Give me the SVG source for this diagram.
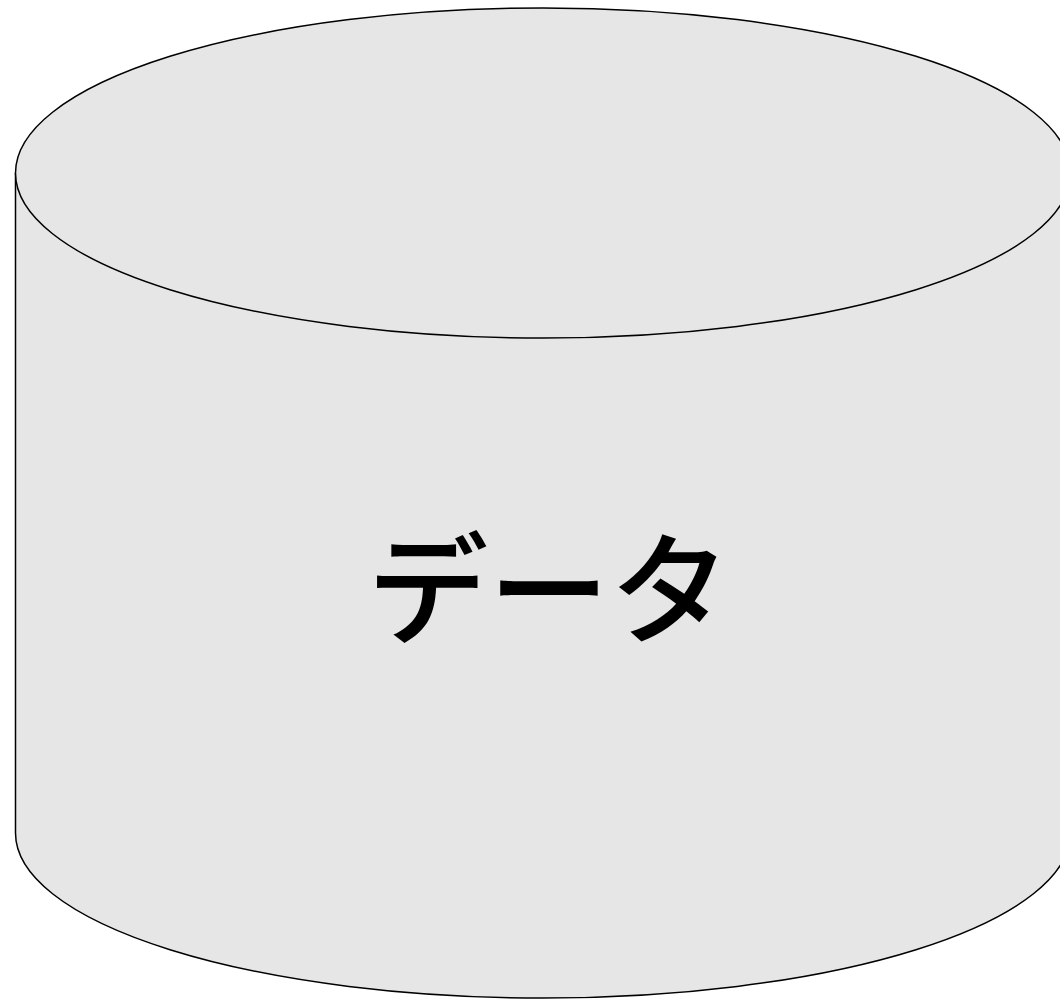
<svg xmlns="http://www.w3.org/2000/svg" width="1060" height="999" viewBox="0 0 1060 999">
<style>
.shape{fill:#e6e6e6;stroke:#000;stroke-width:1.5}
.label{font-family:"Noto Sans CJK JP","Noto Sans",sans-serif;font-size:121px;font-weight:500;fill:#000;text-anchor:middle;dominant-baseline:central}
</style>
<rect width="1060" height="999" fill="#fff"/>
<g id="node-data">
<path class="shape" d="M15.5,173 A527.5,165 0 0 1 1070.5,173 L1070.5,833 A527.5,165 0 0 1 15.5,833 Z"/>
<path class="shape" d="M15.5,173 A527.5,165 0 0 0 1070.5,173" fill="none"/>
<text class="label" x="549" y="581">データ</text>
</g>
<g id="connectors"></g>
</svg>
